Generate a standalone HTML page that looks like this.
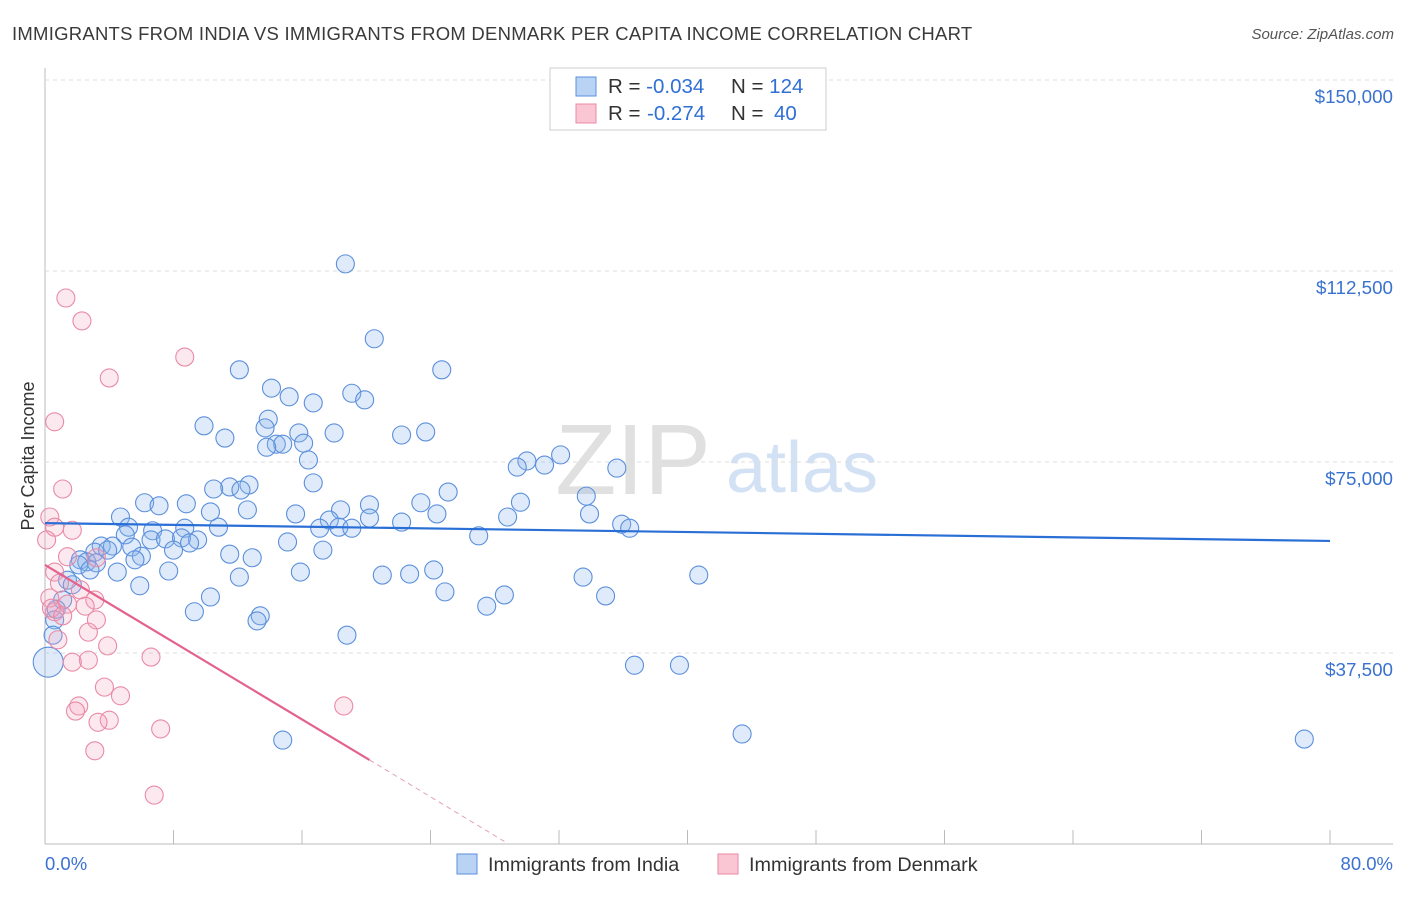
<!DOCTYPE html>
<html><head><meta charset="utf-8">
<style>
body{margin:0;background:#fff;font-family:"Liberation Sans",sans-serif;}
svg text{font-family:"Liberation Sans",sans-serif;}
</style></head>
<body>
<svg id="chart" width="1406" height="892" xmlns="http://www.w3.org/2000/svg">
<text x="12" y="40" font-size="18.5" letter-spacing="0.25" fill="#3a3a3a">IMMIGRANTS FROM INDIA VS IMMIGRANTS FROM DENMARK PER CAPITA INCOME CORRELATION CHART</text>
<text x="1394" y="39" font-size="15" fill="#555" font-style="italic" text-anchor="end">Source: ZipAtlas.com</text>
<text x="633" y="494" font-size="100" fill="#e0e0e0" font-family="Liberation Serif" text-anchor="middle">ZIP</text>
<text x="802" y="492" font-size="72" fill="#d3e1f5" text-anchor="middle">atlas</text>
<text transform="translate(34,456) rotate(-90)" font-size="18" fill="#333" text-anchor="middle">Per Capita Income</text>
<g id="grid"></g><g id="pts"></g><g id="trend"></g>
<g>
<rect x="550" y="68" width="276" height="62" fill="#fff" stroke="#ccc"/>
<rect x="576" y="77" width="20" height="19" fill="#b9d3f5" stroke="#5b8fdc"/>
<rect x="576" y="104" width="20" height="19" fill="#fac6d4" stroke="#e98aa5"/>
<text x="608" y="93" font-size="20.5" fill="#333">R = <tspan fill="#2f6fd6">-0.034</tspan><tspan x="731">N = </tspan><tspan fill="#2f6fd6">124</tspan></text>
<text x="608" y="120" font-size="20.5" fill="#333">R = <tspan x="647" fill="#2f6fd6">-0.274</tspan><tspan x="731">N = </tspan><tspan x="774" fill="#2f6fd6">40</tspan></text>
</g>
<g>
<rect x="457" y="854" width="20" height="20" fill="#b9d3f5" stroke="#5b8fdc"/>
<text x="488" y="871" font-size="19.8" fill="#333">Immigrants from India</text>
<rect x="718" y="854" width="20" height="20" fill="#fac6d4" stroke="#e98aa5"/>
<text x="749" y="871" font-size="19.8" fill="#333">Immigrants from Denmark</text>
</g>
</svg>
<script>
const xTickLabels=["0.0%","80.0%"];
const yTicks=[37500,75000,112500,150000];
const yTickLabels=["$37,500","$75,000","$112,500","$150,000"];
const indiaX=[18.7,20.5,24.7,12.1,14.1,19.1,15.2,19.9,16.7,13.9,9.9,13.7,15.8,18.0,23.7,22.2,11.2,14.4,14.8,16.1,13.8,16.4,32.1,30.0,31.1,29.4,35.6,16.7,12.7,11.5,10.5,12.2,25.1,33.7,6.2,8.8,7.1,29.6,23.4,20.2,18.4,12.6,10.3,15.6,24.4,33.9,28.8,20.2,17.7,22.2,4.7,35.9,36.4,5.2,8.7,10.8,17.1,18.3,19.1,6.7,5.0,27.0,6.6,7.5,8.5,9.5,3.5,4.2,5.4,3.1,3.9,8.0,15.1,9.0,11.5,6.0,5.6,12.9,17.3,2.2,2.6,3.2,2.1,2.8,4.5,7.7,15.9,21.0,22.7,24.2,40.7,33.5,12.1,1.4,1.7,5.9,24.9,10.3,28.6,34.9,27.5,9.3,13.4,13.2,1.1,0.7,0.6,0.5,18.8,36.7,39.5,0.2,14.8,43.4,78.4];
const indiaY=[113.9,99.2,93.1,93.1,89.5,88.5,87.8,87.2,86.6,83.4,82.1,81.7,80.7,80.7,80.9,80.3,79.7,78.5,78.5,78.7,77.9,75.4,76.4,75.2,74.4,74.0,73.8,70.9,70.5,70.1,69.7,69.5,69.1,68.3,67.0,66.8,66.4,67.1,67.0,66.6,65.6,65.6,65.2,64.8,64.8,64.8,64.2,64.0,63.6,63.2,64.2,62.8,62.0,62.2,62.0,62.2,62.0,62.2,62.0,61.5,60.7,60.5,59.7,59.9,60.1,59.7,58.5,58.5,58.3,57.3,57.7,57.7,59.3,59.1,56.9,56.5,55.8,56.2,57.7,55.8,55.4,55.2,54.8,53.8,53.4,53.6,53.4,52.8,53.0,53.8,52.8,52.4,52.4,51.8,50.9,50.7,49.5,48.5,48.9,48.7,46.7,45.6,44.8,43.8,47.9,46.1,44.0,41.0,41.0,35.1,35.1,35.7,20.4,21.6,20.6];
const denX=[1.3,2.3,8.7,4.0,0.6,1.1,0.3,0.6,1.7,0.1,1.4,3.2,0.6,0.9,2.2,0.3,3.1,1.4,2.5,0.6,3.2,2.7,0.8,3.9,2.7,1.7,6.6,3.7,4.7,2.1,1.9,18.6,4.0,3.3,7.2,3.1,6.8,0.4,1.1];
const denY=[107.2,102.7,95.6,91.5,82.9,69.7,64.2,62.2,61.6,59.7,56.4,56.2,53.4,51.2,49.9,48.3,47.9,47.1,46.7,45.6,44.0,41.6,40.1,38.9,36.1,35.7,36.7,30.8,29.1,27.1,26.1,27.1,24.3,23.9,22.6,18.3,9.6,46.3,44.8];
const indiaTrend=[63.0,59.5];
const denTrend=[54.8,16.5,0.5];
const denTrendX=[0,20.2,28.6];
const NS="http://www.w3.org/2000/svg";
const X=v=>45+v/80*1285;
const Y=v=>844-v/150000*764;
function mk(tag,attrs,parent){const e=document.createElementNS(NS,tag);for(const k in attrs)e.setAttribute(k,attrs[k]);parent.appendChild(e);return e;}
const grid=document.getElementById('grid'),pts=document.getElementById('pts'),tr=document.getElementById('trend');
const yAxis=mk('line',{x1:45,y1:68,x2:45,y2:844,stroke:'#bbb'},grid);


const xAxis=mk('line',{x1:45,y1:844,x2:1393,y2:844,stroke:'#bbb'},grid);


for(let i=0;i<=10;i++){const t=mk('line',{x1:X(i*8),y1:830,x2:X(i*8),y2:844,stroke:'#bbb'},grid);

}
yTicks.forEach((v,i)=>{const g=mk('line',{x1:45,y1:Y(v),x2:1393,y2:Y(v),stroke:'#ddd','stroke-dasharray':'4,4'},grid);


const t=mk('text',{x:1393,y:Y(v)+23,'font-size':18.8,fill:'#3a72d0','text-anchor':'end'},grid);t.textContent=yTickLabels[i];

});
const xl0=mk('text',{x:45,y:870,'font-size':18.5,fill:'#3a72d0'},grid);xl0.textContent=xTickLabels[0];


const xl1=mk('text',{x:1393,y:870,'font-size':18.5,fill:'#3a72d0','text-anchor':'end'},grid);xl1.textContent=xTickLabels[1];


indiaX.forEach((x,i)=>{const r=(i===indiaX.length-4)?15:9;const c=mk('circle',{cx:X(x),cy:Y(indiaY[i]*1000),r:r,fill:'rgba(140,182,238,0.28)',stroke:'#5b8fdc','stroke-width':1.1},pts);

});
denX.forEach((x,i)=>{const c=mk('circle',{cx:X(x),cy:Y(denY[i]*1000),r:9,fill:'rgba(245,165,190,0.25)',stroke:'#e98aa5','stroke-width':1.1},pts);

});
const bl=mk('line',{x1:X(0),y1:Y(indiaTrend[0]*1000),x2:X(80),y2:Y(indiaTrend[1]*1000),stroke:'#2a6fd6','stroke-width':2.2},tr);


const pl=mk('line',{x1:X(denTrendX[0]),y1:Y(denTrend[0]*1000),x2:X(denTrendX[1]),y2:Y(denTrend[1]*1000),stroke:'#e3628e','stroke-width':2.2},tr);


const pd=mk('line',{x1:X(denTrendX[1]),y1:Y(denTrend[1]*1000),x2:X(denTrendX[2]),y2:Y(denTrend[2]*1000),stroke:'#e3a0b8','stroke-width':1,'stroke-dasharray':'5,4'},tr);


</script>
</body></html>
